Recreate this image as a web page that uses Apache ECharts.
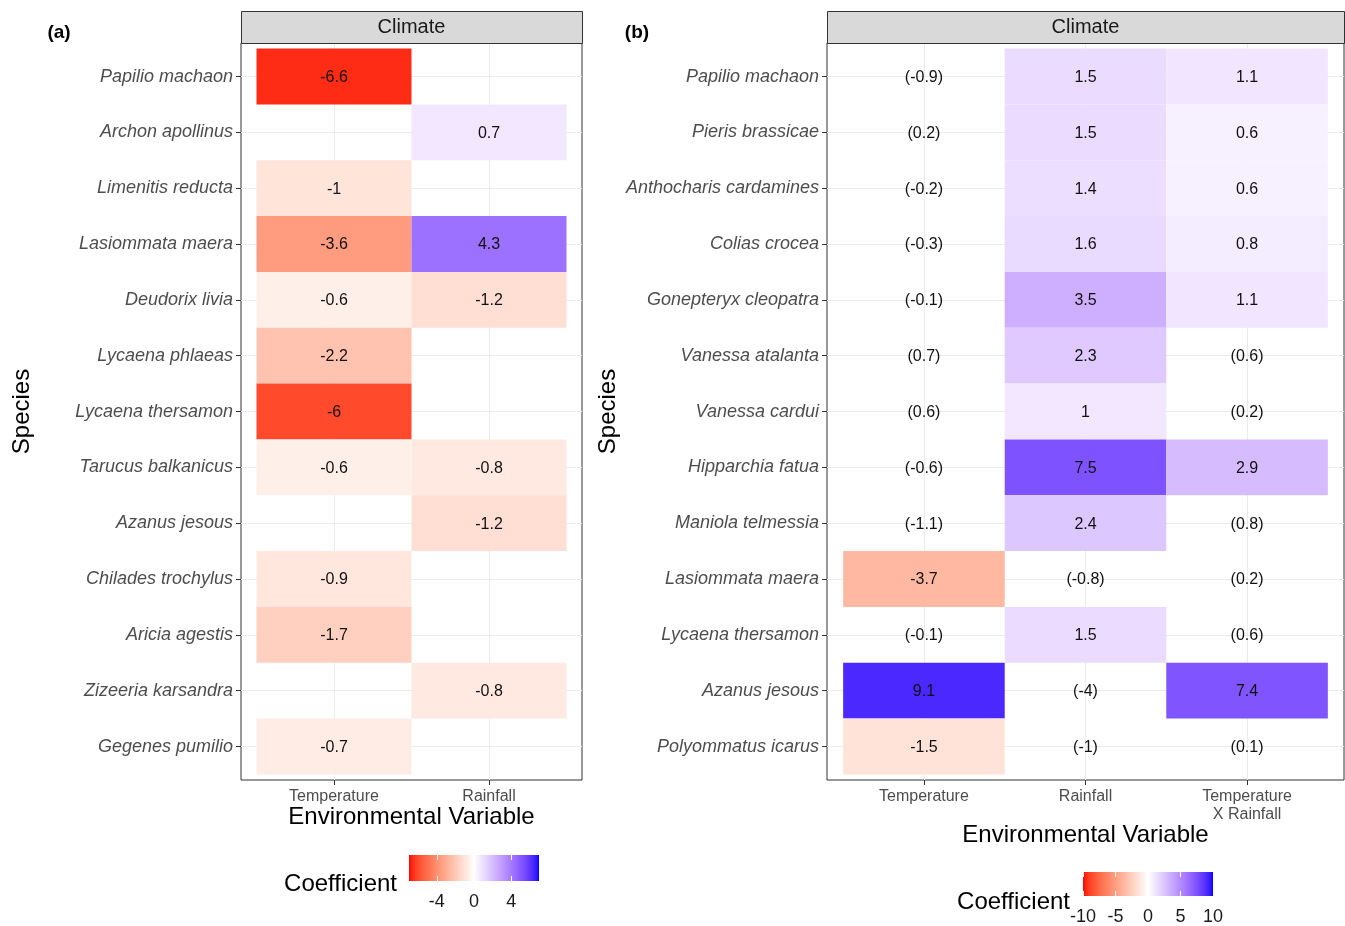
<!DOCTYPE html>
<html>
<head>
<meta charset="utf-8">
<script src="https://cdn.jsdelivr.net/npm/echarts@6/dist/echarts.min.js"></script>
<style>
html,body{margin:0;padding:0;background:#fff;}
#chart{width:1345px;height:926px;}
</style>
</head>
<body>
<div id="chart"></div>
<script>
// ---------------- DATA ----------------
const speciesA = ['Papilio machaon','Archon apollinus','Limenitis reducta','Lasiommata maera','Deudorix livia','Lycaena phlaeas','Lycaena thersamon','Tarucus balkanicus','Azanus jesous','Chilades trochylus','Aricia agestis','Zizeeria karsandra','Gegenes pumilio'];
const variablesA = ['Temperature', 'Rainfall'];
const temperatureA = [-6.6, null, -1, -3.6, -0.6, -2.2, -6, -0.6, null, -0.9, -1.7, null, -0.7];
const rainfallA = [null, 0.7, null, 4.3, -1.2, null, null, -0.8, -1.2, null, null, -0.8, null];

const speciesB = ['Papilio machaon','Pieris brassicae','Anthocharis cardamines','Colias crocea','Gonepteryx cleopatra','Vanessa atalanta','Vanessa cardui','Hipparchia fatua','Maniola telmessia','Lasiommata maera','Lycaena thersamon','Azanus jesous','Polyommatus icarus'];
const variablesB = ['Temperature', 'Rainfall', 'Temperature\nX Rainfall'];
const temperatureB = [-0.9, 0.2, -0.2, -0.3, -0.1, 0.7, 0.6, -0.6, -1.1, -3.7, -0.1, 9.1, -1.5];
const temperatureSigB = [0, 0, 0, 0, 0, 0, 0, 0, 0, 1, 0, 1, 1];
const rainfallB = [1.5, 1.5, 1.4, 1.6, 3.5, 2.3, 1, 7.5, 2.4, -0.8, 1.5, -4, -1];
const rainfallSigB = [1, 1, 1, 1, 1, 1, 1, 1, 1, 0, 1, 0, 0];
const interactionB = [1.1, 0.6, 0.6, 0.8, 1.1, 0.6, 0.2, 2.9, 0.8, 0.2, 0.6, 7.4, 0.1];
const interactionSigB = [1, 1, 1, 1, 1, 0, 0, 1, 0, 0, 0, 1, 0];

const legendLimitsA = [-7, 7];
const legendTicksA = [-4, 0, 4];
const legendLimitsB = [-10, 10];
const legendTicksB = [-10, -5, 0, 5, 10];

// ---------------- COLOUR (ggplot gradient2, Lab interpolation) ----------------
function s2l(c){c/=255;return c<=0.04045?c/12.92:Math.pow((c+0.055)/1.055,2.4);}
function l2s(c){c=c<=0.0031308?12.92*c:1.055*Math.pow(Math.max(c,0),1/2.4)-0.055;return Math.round(Math.max(0,Math.min(1,c))*255);}
const Xn=0.95047,Yn=1,Zn=1.08883;
function fLab(t){return t>216/24389?Math.cbrt(t):(24389/27*t+16)/116;}
function fInv(t){const t3=t*t*t;return t3>216/24389?t3:(116*t-16)/(24389/27);}
function rgb2lab(rgb){const R=s2l(rgb[0]),G=s2l(rgb[1]),B=s2l(rgb[2]);
  const X=0.4124*R+0.3576*G+0.1805*B,Y=0.2126*R+0.7152*G+0.0722*B,Z=0.0193*R+0.1192*G+0.9505*B;
  const fx=fLab(X/Xn),fy=fLab(Y/Yn),fz=fLab(Z/Zn);return [116*fy-16,500*(fx-fy),200*(fy-fz)];}
function lab2rgb(lab){const fy=(lab[0]+16)/116,fx=fy+lab[1]/500,fz=fy-lab[2]/200;
  const X=Xn*fInv(fx),Y=Yn*fInv(fy),Z=Zn*fInv(fz);
  const R=3.2406*X-1.5372*Y-0.4986*Z,G=-0.9689*X+1.8758*Y+0.0415*Z,B=0.0557*X-0.2040*Y+1.0570*Z;
  return 'rgb('+l2s(R)+','+l2s(G)+','+l2s(B)+')';}
const labRed=rgb2lab([255,0,0]), labWhite=rgb2lab([255,255,255]), labBlue=rgb2lab([0,0,255]);
function mix(a,b,t){return [a[0]+(b[0]-a[0])*t,a[1]+(b[1]-a[1])*t,a[2]+(b[2]-a[2])*t];}
const N=60;
const divColors=[];
for(let i=0;i<=N;i++){const t=i/N*2-1; divColors.push(lab2rgb(t<0?mix(labWhite,labRed,-t):mix(labWhite,labBlue,t)));}
const gradientStops=divColors.map((c,i)=>({offset:i/N,color:c}));

// ---------------- BUILD ----------------
function buildCells(columns, sigs){
  const out=[];
  columns.forEach((col,j)=>{col.forEach((v,i)=>{if(v!==null&&v!==undefined){out.push([j+1,i+1,v,sigs?sigs[j][i]:1]);}});});
  return out;
}
const cellsA=buildCells([temperatureA,rainfallA],null);
const cellsB=buildCells([temperatureB,rainfallB,interactionB],[temperatureSigB,rainfallSigB,interactionSigB]);

const FONT='"Liberation Sans", Arial, Helvetica, sans-serif';

function renderTile(params, api){
  const x=api.value(0), y=api.value(1), v=api.value(2), sig=api.value(3);
  const c=api.coord([x,y]);
  const s=api.size([1,1]);
  const w=Math.abs(s[0]), h=Math.abs(s[1]);
  const children=[];
  if(sig){
    children.push({type:'rect',shape:{x:c[0]-w/2,y:c[1]-h/2,width:w,height:h},style:{fill:api.visual('color')}});
  }
  const txt=sig?String(v):'('+String(v)+')';
  children.push({type:'text',x:c[0],y:c[1]+1,style:{text:txt,fill:'#111',font:'16px '+FONT,align:'center',verticalAlign:'middle'}});
  return {type:'group',children:children};
}
function renderLegend(params, api){
  const p0=api.coord([api.value(0),1]);
  const p1=api.coord([api.value(1),0]);
  return {type:'rect',shape:{x:p0[0],y:p0[1],width:p1[0]-p0[0],height:p1[1]-p0[1]},
    style:{fill:{type:'linear',x:0,y:0,x2:1,y2:0,colorStops:gradientStops}}};
}

function idxArr(n){const a=[];for(let i=1;i<=n;i++)a.push(i);return a;}

function panelX(gridIndex, vars, nameGap){
  const vals=idxArr(vars.length);
  return {type:'value',gridIndex:gridIndex,min:0.4,max:vars.length+0.6,position:'bottom',
    axisLine:{show:false},
    axisTick:{show:true,customValues:vals,length:5,lineStyle:{color:'#333',width:1}},
    axisLabel:{customValues:vals,formatter:v=>vars[Math.round(v)-1]||'',color:'#4D4D4D',fontSize:16,fontFamily:FONT,margin:8,lineHeight:18},
    splitLine:{show:true,lineStyle:{color:'#EBEBEB',width:1}},
    name:'Environmental Variable',nameLocation:'middle',nameGap:nameGap,nameMoveOverlap:false,
    nameTextStyle:{color:'#000',fontSize:24,fontFamily:FONT}};
}
function panelY(gridIndex, species){
  const vals=idxArr(species.length);
  return {type:'value',gridIndex:gridIndex,min:0.4,max:species.length+0.6,inverse:true,
    axisLine:{show:false},
    axisTick:{show:true,customValues:vals,length:5,lineStyle:{color:'#333',width:1}},
    axisLabel:{customValues:vals,formatter:v=>species[Math.round(v)-1]||'',color:'#4D4D4D',fontSize:18,fontStyle:'italic',fontFamily:FONT,margin:8},
    splitLine:{show:true,lineStyle:{color:'#EBEBEB',width:1}},
    name:'Species',nameLocation:'middle',nameGap:207,nameRotate:90,nameMoveOverlap:false,
    nameTextStyle:{color:'#000',fontSize:24,fontFamily:FONT}};
}
function legendX(gridIndex, limits, ticks, pos){
  return {type:'value',gridIndex:gridIndex,min:limits[0],max:limits[1],position:pos,z:10,
    axisLine:{show:false},
    axisTick:{show:true,inside:true,customValues:ticks,length:5,lineStyle:{color:'#fff',width:1}},
    axisLabel:{show:pos==='bottom',customValues:ticks,color:'#1A1A1A',fontSize:18,fontFamily:FONT,margin:12},
    splitLine:{show:false}};
}
function legendY(gridIndex){
  return {type:'value',gridIndex:gridIndex,min:0,max:1,show:false};
}

const option={
  animation:false,
  backgroundColor:'#fff',
  grid:[
    {left:241,top:43,width:341,height:737,show:true,borderColor:'#333',borderWidth:1,backgroundColor:'#fff'},
    {left:827,top:43,width:517,height:737,show:true,borderColor:'#333',borderWidth:1,backgroundColor:'#fff'},
    {left:409,top:855,width:130,height:26},
    {left:1083,top:872,width:130,height:26}
  ],
  xAxis:[
    panelX(0,variablesA,25),
    panelX(1,variablesB,43),
    legendX(2,legendLimitsA,legendTicksA,'bottom'),
    legendX(2,legendLimitsA,legendTicksA,'top'),
    legendX(3,legendLimitsB,legendTicksB,'bottom'),
    legendX(3,legendLimitsB,legendTicksB,'top')
  ],
  yAxis:[
    panelY(0,speciesA),
    panelY(1,speciesB),
    legendY(2),
    legendY(3)
  ],
  visualMap:[
    {type:'continuous',show:false,seriesIndex:0,dimension:2,min:legendLimitsA[0],max:legendLimitsA[1],inRange:{color:divColors}},
    {type:'continuous',show:false,seriesIndex:1,dimension:2,min:legendLimitsB[0],max:legendLimitsB[1],inRange:{color:divColors}}
  ],
  series:[
    {type:'custom',xAxisIndex:0,yAxisIndex:0,data:cellsA,renderItem:renderTile,silent:true},
    {type:'custom',xAxisIndex:1,yAxisIndex:1,data:cellsB,renderItem:renderTile,silent:true},
    {type:'custom',xAxisIndex:2,yAxisIndex:2,data:[legendLimitsA],renderItem:renderLegend,silent:true,z:1},
    {type:'custom',xAxisIndex:4,yAxisIndex:3,data:[legendLimitsB],renderItem:renderLegend,silent:true,z:1}
  ],
  graphic:[
    {type:'rect',left:241,top:11,shape:{width:341,height:32},style:{fill:'#D9D9D9',stroke:'#333',lineWidth:1},z:5},
    {type:'text',x:411.5,y:27.5,style:{text:'Climate',font:'20px '+FONT,fill:'#1A1A1A',align:'center',verticalAlign:'middle'},z:6},
    {type:'rect',left:827,top:11,shape:{width:517,height:32},style:{fill:'#D9D9D9',stroke:'#333',lineWidth:1},z:5},
    {type:'text',x:1085.5,y:27.5,style:{text:'Climate',font:'20px '+FONT,fill:'#1A1A1A',align:'center',verticalAlign:'middle'},z:6},
    {type:'text',x:59,y:33,style:{text:'(a)',font:'bold 19px '+FONT,fill:'#000',align:'center',verticalAlign:'middle'}},
    {type:'text',x:637,y:33,style:{text:'(b)',font:'bold 19px '+FONT,fill:'#000',align:'center',verticalAlign:'middle'}},
    {type:'text',x:397,y:884,style:{text:'Coefficient',font:'24px '+FONT,fill:'#000',align:'right',verticalAlign:'middle'}},
    {type:'text',x:1070,y:902,style:{text:'Coefficient',font:'24px '+FONT,fill:'#000',align:'right',verticalAlign:'middle'}}
  ]
};

const chart=echarts.init(document.getElementById('chart'),null,{renderer:'canvas'});
chart.setOption(option);
</script>
</body>
</html>
